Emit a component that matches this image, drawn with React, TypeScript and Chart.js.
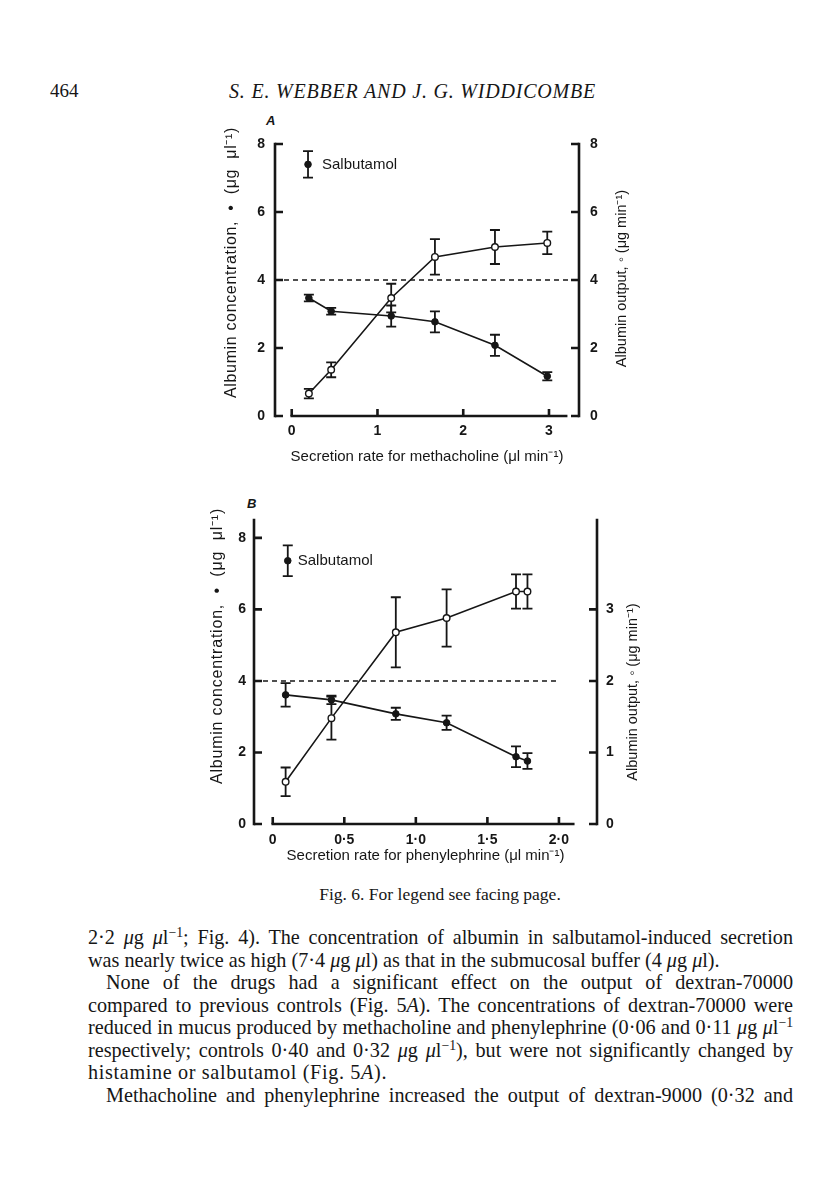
import React, { useEffect, useRef } from 'react';
import { Chart, registerables } from 'chart.js';

Chart.register(...registerables);

// ---------- Panel A: methacholine ----------
const rateA = [0.2, 0.46, 1.16, 1.67, 2.37, 2.98];
const concA = [3.47, 3.08, 2.94, 2.77, 2.08, 1.17];
const concErrA = [0.1, 0.1, 0.31, 0.31, 0.31, 0.12];
const outputA = [0.66, 1.36, 3.47, 4.68, 4.97, 5.09];
const outputErrA = [0.14, 0.22, 0.42, 0.52, 0.5, 0.33];
const salbRateA = [0.19];
const salbConcA = [7.4];
const salbErrA = [0.39];
const xTicksA = [0, 1, 2, 3];
const xTickLabelsA = ['0', '1', '2', '3'];
const yLeftTicksA = [0, 2, 4, 6, 8];
const yRightTicksA = [0, 2, 4, 6, 8];

// ---------- Panel B: phenylephrine ----------
const rateB = [0.09, 0.41, 0.86, 1.215, 1.7, 1.78];
const concB = [3.61, 3.47, 3.08, 2.83, 1.88, 1.76];
const concErrB = [0.33, 0.12, 0.17, 0.2, 0.29, 0.22];
const outputB = [0.59, 1.48, 2.68, 2.88, 3.25, 3.25];
const outputErrB = [0.2, 0.3, 0.49, 0.4, 0.24, 0.24];
const salbRateB = [0.105];
const salbConcB = [7.36];
const salbErrB = [0.43];
const xTicksB = [0, 0.5, 1, 1.5, 2];
const xTickLabelsB = ['0', '0·5', '1·0', '1·5', '2·0'];
const yLeftTicksB = [0, 2, 4, 6, 8];
const yRightTicksB = [0, 1, 2, 3];

// albumin concentration of the submucosal buffer (dashed line)
const bufferLevel = 4;

const INK = '#161616';
const SANS = '"Liberation Sans", Arial, Helvetica, sans-serif';
const SERIF = '"Liberation Serif", "Times New Roman", serif';

const errorBarPlugin = {
  id: 'errorBars',
  beforeDatasetsDraw(chart: any) {
    const { ctx } = chart;
    const sx = chart.scales.x;
    chart.data.datasets.forEach((ds: any) => {
      if (!ds.errors) return;
      const sy = chart.scales[ds.yAxisID];
      ctx.save();
      ctx.strokeStyle = INK;
      ctx.lineWidth = 1.8;
      ctx.beginPath();
      ds.data.forEach((pt: any, i: number) => {
        const e = ds.errors[i];
        if (!e) return;
        const px = sx.getPixelForValue(pt.x);
        const top = sy.getPixelForValue(pt.y + e);
        const bot = sy.getPixelForValue(pt.y - e);
        ctx.moveTo(px, top);
        ctx.lineTo(px, bot);
        ctx.moveTo(px - 5, top);
        ctx.lineTo(px + 5, top);
        ctx.moveTo(px - 5, bot);
        ctx.lineTo(px + 5, bot);
      });
      ctx.stroke();
      ctx.restore();
    });
  },
};

const axisFramePlugin = {
  id: 'axisFrame',
  afterDraw(chart: any, _args: any, o: any) {
    const { ctx, chartArea: a, scales } = chart;
    const sx = scales.x;
    const sy = scales.y;
    const sy1 = scales.y1;
    const y0 = sy.getPixelForValue(0);
    ctx.save();
    ctx.strokeStyle = INK;
    ctx.lineWidth = 2.6;
    ctx.lineCap = 'square';
    ctx.beginPath();
    ctx.moveTo(a.left, a.top);
    ctx.lineTo(a.left, y0);
    ctx.moveTo(a.right, a.top);
    ctx.lineTo(a.right, sy1.getPixelForValue(0));
    ctx.moveTo(sx.getPixelForValue(sx.ticks[0].value), y0);
    ctx.lineTo(sx.getPixelForValue(o.xAxisEnd), y0);
    ctx.stroke();
    ctx.lineCap = 'butt';
    ctx.beginPath();
    sy.ticks.forEach((t: any) => {
      const p = sy.getPixelForValue(t.value);
      ctx.moveTo(a.left, p);
      ctx.lineTo(a.left + 8, p);
    });
    sy1.ticks.forEach((t: any) => {
      const p = sy1.getPixelForValue(t.value);
      ctx.moveTo(a.right, p);
      ctx.lineTo(a.right - 8, p);
    });
    sx.ticks.forEach((t: any) => {
      const p = sx.getPixelForValue(t.value);
      ctx.moveTo(p, y0);
      ctx.lineTo(p, y0 - 7);
    });
    ctx.stroke();
    ctx.restore();
  },
};

function drawFitted(ctx: any, text: string, target: number) {
  const c = ctx as any;
  c.letterSpacing = '0px';
  if (target > 0) {
    const w = ctx.measureText(text).width;
    const n = Array.from(text).length;
    c.letterSpacing = `${(target - w) / n}px`;
  }
  ctx.fillText(text, 0, 0);
  c.letterSpacing = '0px';
}

const panelTextPlugin = {
  id: 'panelText',
  afterDraw(chart: any, _args: any, o: any) {
    const { ctx, chartArea: a } = chart;
    const midY = (a.top + a.bottom) / 2;
    ctx.save();
    ctx.fillStyle = INK;
    ctx.textAlign = 'center';
    ctx.textBaseline = 'middle';
    ctx.save();
    ctx.font = `${o.leftSize}px ${SANS}`;
    ctx.translate(a.left + o.leftDx, midY + o.leftDy);
    ctx.rotate(-Math.PI / 2);
    drawFitted(ctx, o.leftTitle, o.leftLen);
    ctx.restore();
    ctx.save();
    ctx.font = `${o.rightSize}px ${SANS}`;
    ctx.translate(a.right + o.rightDx, midY + o.rightDy);
    ctx.rotate(-Math.PI / 2);
    drawFitted(ctx, o.rightTitle, o.rightLen);
    ctx.restore();
    const ds = chart.data.datasets.find((d: any) => d.label === 'Salbutamol');
    const pt = ds.data[0];
    const px = chart.scales.x.getPixelForValue(pt.x);
    const py = chart.scales.y.getPixelForValue(pt.y);
    ctx.font = `15px ${SANS}`;
    ctx.textAlign = 'left';
    ctx.fillText('Salbutamol', px + o.legendDx, py);
    ctx.restore();
  },
};

type Spec = {
  left: number; top: number; w: number; h: number;
  padTop: number; leftW: number; rightW: number; bottomH: number;
  xMin: number; xMax: number; xAxisEnd: number; refEnd: number;
  yMax: number; y1Max: number;
  rate: number[]; conc: number[]; concErr: number[]; output: number[]; outputErr: number[];
  salbRate: number[]; salbConc: number[]; salbErr: number[];
  xTicks: number[]; xTickLabels: string[]; yLeftTicks: number[]; yRightTicks: number[];
  xTitle: string; xTitlePad: number; xTickPad: number; yTickPadL: number; yTickPadR: number;
  leftDx: number; leftDy: number; rightDx: number; rightDy: number; legendDx: number;
  leftLen: number; rightLen: number;
};

function buildConfig(s: Spec): any {
  const tickFont = { family: SANS, size: 14, weight: 'bold' as const };
  const pts = (xs: number[], ys: number[]) => xs.map((x, i) => ({ x, y: ys[i] }));
  const axisCommon = { grid: { display: false, drawTicks: false }, border: { display: false } };
  return {
    type: 'scatter',
    data: {
      datasets: [
        {
          label: 'Salbutamol', data: pts(s.salbRate, s.salbConc), errors: s.salbErr, yAxisID: 'y',
          showLine: false, pointRadius: 3.3, pointBackgroundColor: INK, pointBorderColor: INK, pointBorderWidth: 1,
        },
        {
          label: 'Albumin concentration', data: pts(s.rate, s.conc), errors: s.concErr, yAxisID: 'y',
          showLine: true, borderColor: INK, borderWidth: 1.6, pointRadius: 3.3,
          pointBackgroundColor: INK, pointBorderColor: INK, pointBorderWidth: 1,
        },
        {
          label: 'Albumin output', data: pts(s.rate, s.output), errors: s.outputErr, yAxisID: 'y1',
          showLine: true, borderColor: INK, borderWidth: 1.6, pointRadius: 3.3,
          pointBackgroundColor: '#ffffff', pointBorderColor: INK, pointBorderWidth: 1.4,
        },
        {
          label: 'Submucosal buffer', yAxisID: 'y',
          data: [{ x: s.xMin, y: bufferLevel }, { x: s.refEnd, y: bufferLevel }],
          showLine: true, borderColor: INK, borderWidth: 1.6, borderDash: [5, 4], pointRadius: 0,
        },
      ],
    },
    options: {
      responsive: false,
      maintainAspectRatio: false,
      animation: false,
      events: [],
      layout: { padding: { top: s.padTop, left: 0, right: 0, bottom: 0 } },
      plugins: {
        legend: { display: false },
        tooltip: { enabled: false },
        axisFrame: { xAxisEnd: s.xAxisEnd },
        panelText: {
          leftTitle: 'Albumin concentration,  •  (μg  μl⁻¹)',
          rightTitle: 'Albumin output, ◦ (μg min⁻¹)',
          leftSize: 16, rightSize: 14.5,
          leftLen: s.leftLen, rightLen: s.rightLen,
          leftDx: s.leftDx, leftDy: s.leftDy, rightDx: s.rightDx, rightDy: s.rightDy, legendDx: s.legendDx,
        },
      },
      scales: {
        x: {
          type: 'linear', position: 'bottom', min: s.xMin, max: s.xMax, ...axisCommon,
          afterBuildTicks: (sc: any) => { sc.ticks = s.xTicks.map((v) => ({ value: v })); },
          afterFit: (sc: any) => { sc.height = s.bottomH; },
          ticks: {
            color: INK, font: tickFont, padding: s.xTickPad, maxRotation: 0, autoSkip: false,
            callback: (v: number) => { const i = s.xTicks.indexOf(v); return i >= 0 ? s.xTickLabels[i] : ''; },
          },
          title: {
            display: true, text: s.xTitle, color: INK,
            font: { family: SANS, size: 15 }, padding: { top: 0, bottom: s.xTitlePad },
          },
        },
        y: {
          type: 'linear', position: 'left', min: 0, max: s.yMax, ...axisCommon,
          afterBuildTicks: (sc: any) => { sc.ticks = s.yLeftTicks.map((v) => ({ value: v })); },
          afterFit: (sc: any) => { sc.width = s.leftW; },
          ticks: { color: INK, font: tickFont, padding: s.yTickPadL, callback: (v: number) => String(v) },
        },
        y1: {
          type: 'linear', position: 'right', min: 0, max: s.y1Max, ...axisCommon,
          afterBuildTicks: (sc: any) => { sc.ticks = s.yRightTicks.map((v) => ({ value: v })); },
          afterFit: (sc: any) => { sc.width = s.rightW; },
          ticks: { color: INK, font: tickFont, padding: s.yTickPadR, callback: (v: number) => String(v) },
        },
      },
    },
    plugins: [errorBarPlugin, axisFramePlugin, panelTextPlugin],
  };
}

const specA: Spec = {
  left: 190, top: 100, w: 455, h: 375,
  padTop: 44, leftW: 85, rightW: 66, bottomH: 59,
  xMin: -0.195, xMax: 3.35, xAxisEnd: 3.2, refEnd: 3.35,
  yMax: 8, y1Max: 8,
  rate: rateA, conc: concA, concErr: concErrA, output: outputA, outputErr: outputErrA,
  salbRate: salbRateA, salbConc: salbConcA, salbErr: salbErrA,
  xTicks: xTicksA, xTickLabels: xTickLabelsA, yLeftTicks: yLeftTicksA, yRightTicks: yRightTicksA,
  xTitle: 'Secretion rate for methacholine (μl min⁻¹)', xTitlePad: 9.6, xTickPad: 7,
  yTickPadL: 10, yTickPadR: 11,
  leftDx: -43, leftDy: -17.5, rightDx: 43, rightDy: -1.5, legendDx: 14,
  leftLen: 271, rightLen: 0,
};

const specB: Spec = {
  left: 168, top: 485, w: 477, h: 385,
  padTop: 35, leftW: 86, rightW: 48, bottomH: 46,
  xMin: -0.131, xMax: 2.266, xAxisEnd: 2.1, refEnd: 2.0,
  yMax: 8.5, y1Max: 4.25,
  rate: rateB, conc: concB, concErr: concErrB, output: outputB, outputErr: outputErrB,
  salbRate: salbRateB, salbConc: salbConcB, salbErr: salbErrB,
  xTicks: xTicksB, xTickLabels: xTickLabelsB, yLeftTicks: yLeftTicksB, yRightTicks: yRightTicksB,
  xTitle: 'Secretion rate for phenylephrine (μl min⁻¹)', xTitlePad: 4.9, xTickPad: 8,
  yTickPadL: 8, yTickPadR: 9,
  leftDx: -36, leftDy: -26, rightDx: 36, rightDy: 20, legendDx: 10,
  leftLen: 276, rightLen: 0,
};

function Panel({ spec }: { spec: Spec }) {
  const ref = useRef<HTMLCanvasElement>(null);
  useEffect(() => {
    const chart = new Chart(ref.current as HTMLCanvasElement, buildConfig(spec));
    return () => chart.destroy();
  }, [spec]);
  return (
    <canvas
      ref={ref}
      width={spec.w}
      height={spec.h}
      style={{ position: 'absolute', left: spec.left, top: spec.top, width: spec.w, height: spec.h }}
    />
  );
}

const mu = <i>μ</i>;
const inv = <sup style={{ fontSize: '0.68em', lineHeight: 0, verticalAlign: '0.5em' }}>−1</sup>;

function Line({ top, left = 88, width = 705, justify = true, ls = 0, children }: any) {
  return (
    <div
      style={{
        position: 'absolute', top, left, width: width - (left - 88),
        fontFamily: SERIF, fontSize: 20.2, lineHeight: '22px', color: INK,
        textAlign: justify ? 'justify' : 'left', textAlignLast: justify ? 'justify' : 'left',
        letterSpacing: ls,
      }}
    >
      {children}
    </div>
  );
}

export default function App() {
  return (
    <div style={{ position: 'absolute', left: 0, top: 0, width: 816, height: 1203, background: '#fff', overflow: 'hidden' }}>
      <div style={{ position: 'absolute', left: 50, top: 80, fontFamily: SERIF, fontSize: 19, color: INK }}>464</div>
      <div style={{ position: 'absolute', left: 229, top: 80, fontFamily: SERIF, fontSize: 20, fontStyle: 'italic', letterSpacing: 0.8, color: INK }}>
        S. E. WEBBER AND J. G. WIDDICOMBE
      </div>
      <div style={{ position: 'absolute', left: 266, top: 113, fontFamily: SANS, fontSize: 13, fontWeight: 'bold', fontStyle: 'italic', color: INK }}>A</div>
      <div style={{ position: 'absolute', left: 247, top: 496, fontFamily: SANS, fontSize: 13, fontWeight: 'bold', fontStyle: 'italic', color: INK }}>B</div>
      <Panel spec={specA} />
      <Panel spec={specB} />
      <div style={{ position: 'absolute', left: 0, width: 880, top: 884, textAlign: 'center', fontFamily: SERIF, fontSize: 17.5, color: INK }}>
        Fig. 6. For legend see facing page.
      </div>
      <Line top={926}>2·2 {mu}g {mu}l{inv}; Fig. 4). The concentration of albumin in salbutamol-induced secretion</Line>
      <Line top={949} justify={false}>was nearly twice as high (7·4 {mu}g {mu}l) as that in the submucosal buffer (4 {mu}g {mu}l).</Line>
      <Line top={971} left={106}>None of the drugs had a significant effect on the output of dextran-70000</Line>
      <Line top={994}>compared to previous controls (Fig. 5<i>A</i>). The concentrations of dextran-70000 were</Line>
      <Line top={1016}>reduced in mucus produced by methacholine and phenylephrine (0·06 and 0·11 {mu}g {mu}l{inv}</Line>
      <Line top={1039}>respectively; controls 0·40 and 0·32 {mu}g {mu}l{inv}), but were not significantly changed by</Line>
      <Line top={1061} justify={false} ls={0.65}>histamine or salbutamol (Fig. 5<i>A</i>).</Line>
      <Line top={1084} left={106}>Methacholine and phenylephrine increased the output of dextran-9000 (0·32 and</Line>
    </div>
  );
}
